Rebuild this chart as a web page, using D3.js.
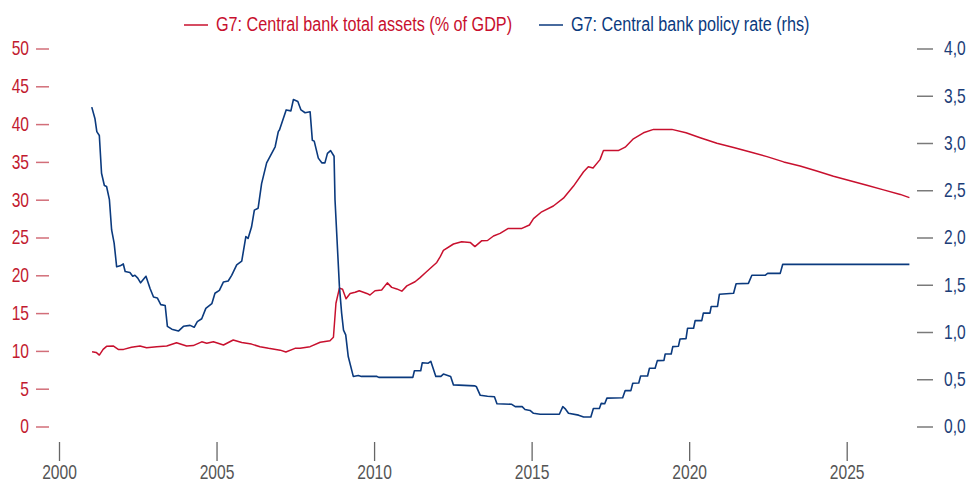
<!DOCTYPE html>
<html>
<head>
<meta charset="utf-8">
<script src="https://cdn.jsdelivr.net/npm/d3@7"></script>
<style>
  html, body { margin: 0; padding: 0; background: #fff; }
  svg { display: block; }
  text { font-family: "Liberation Sans", Arial, sans-serif; }
</style>
</head>
<body>
<svg id="chart" width="969" height="484"></svg>
<script>
// ---- Data ----
const xTicks = [2000, 2005, 2010, 2015, 2020, 2025];
const leftTicks = [0, 5, 10, 15, 20, 25, 30, 35, 40, 45, 50];
const rightTicks = [0, 0.5, 1, 1.5, 2, 2.5, 3, 3.5, 4];
const seriesNames = ["G7: Central bank total assets (% of GDP)", "G7: Central bank policy rate (rhs)"];

// G7 central bank total assets, % of GDP  [year, value]
const assetsData = [
  [2001.05, 9.9], [2001.18, 9.8], [2001.28, 9.45], [2001.4, 10.2], [2001.51, 10.6], [2001.72, 10.65],
  [2001.88, 10.2], [2002.05, 10.2], [2002.3, 10.47], [2002.57, 10.65], [2002.78, 10.43], [2003.1, 10.56],
  [2003.42, 10.65], [2003.73, 11.08], [2004.05, 10.65], [2004.26, 10.7], [2004.53, 11.2], [2004.69, 11.0],
  [2004.9, 11.2], [2005.22, 10.78], [2005.53, 11.44], [2005.8, 11.1], [2006.11, 10.9], [2006.38, 10.56],
  [2006.65, 10.34], [2007.02, 10.1], [2007.2, 9.85], [2007.49, 10.34], [2007.65, 10.34], [2007.97, 10.56],
  [2008.29, 11.14], [2008.6, 11.35], [2008.71, 11.8], [2008.79, 16.3], [2008.9, 18.3], [2009.0, 18.15],
  [2009.11, 16.9], [2009.24, 17.6], [2009.4, 17.75], [2009.53, 17.96], [2009.77, 17.6], [2009.87, 17.4],
  [2010.03, 17.96], [2010.24, 18.05], [2010.42, 19.0], [2010.56, 18.4], [2010.72, 18.2], [2010.88, 17.9],
  [2011.04, 18.6], [2011.3, 19.15], [2011.46, 19.7], [2011.62, 20.3], [2011.83, 21.1], [2011.99, 21.7],
  [2012.1, 22.46], [2012.2, 23.3], [2012.52, 24.14], [2012.78, 24.44], [2013.05, 24.35], [2013.2, 23.8],
  [2013.42, 24.58], [2013.6, 24.6], [2013.79, 25.2], [2014.0, 25.55], [2014.26, 26.2], [2014.69, 26.2],
  [2014.93, 26.65], [2015.06, 27.5], [2015.32, 28.4], [2015.69, 29.17], [2016.01, 30.2], [2016.33, 31.8],
  [2016.65, 33.7], [2016.8, 34.37], [2016.95, 34.2], [2017.17, 35.3], [2017.28, 36.5], [2017.75, 36.5],
  [2017.97, 36.95], [2018.23, 38.05], [2018.55, 38.85], [2018.87, 39.3], [2019.45, 39.3], [2019.9, 38.85],
  [2020.35, 38.2], [2020.88, 37.46], [2021.41, 36.9], [2021.94, 36.3], [2022.47, 35.7], [2023.0, 35.0],
  [2023.52, 34.46], [2024.05, 33.8], [2024.58, 33.1], [2025.11, 32.5], [2025.64, 31.9], [2026.17, 31.3],
  [2026.7, 30.7], [2026.99, 30.27]
];

// G7 central bank policy rate, %  [year, value]
const rateData = [
  [2001.04, 3.38], [2001.14, 3.26], [2001.2, 3.12], [2001.28, 3.08], [2001.35, 2.68], [2001.44, 2.55],
  [2001.51, 2.54], [2001.6, 2.40], [2001.67, 2.08], [2001.75, 1.94], [2001.83, 1.69], [2001.94, 1.70],
  [2002.04, 1.72], [2002.1, 1.64], [2002.25, 1.63], [2002.34, 1.59], [2002.41, 1.60], [2002.5, 1.57],
  [2002.59, 1.52], [2002.76, 1.59], [2002.89, 1.46], [2003.0, 1.37], [2003.12, 1.36], [2003.23, 1.29],
  [2003.37, 1.28], [2003.44, 1.06], [2003.58, 1.03], [2003.79, 1.01], [2003.95, 1.06], [2004.16, 1.07],
  [2004.29, 1.05], [2004.39, 1.11], [2004.53, 1.14], [2004.66, 1.25], [2004.85, 1.30], [2004.95, 1.41],
  [2005.09, 1.44], [2005.22, 1.53], [2005.37, 1.54], [2005.48, 1.60], [2005.64, 1.71], [2005.8, 1.75],
  [2005.93, 2.01], [2006.0, 1.99], [2006.11, 2.11], [2006.2, 2.29], [2006.32, 2.31], [2006.43, 2.57],
  [2006.59, 2.79], [2006.86, 2.96], [2006.96, 3.12], [2007.0, 3.14], [2007.21, 3.35], [2007.36, 3.34],
  [2007.44, 3.46], [2007.58, 3.44], [2007.68, 3.35], [2007.81, 3.32], [2007.97, 3.33], [2008.04, 3.03],
  [2008.1, 3.02], [2008.23, 2.84], [2008.34, 2.79], [2008.44, 2.79], [2008.52, 2.89], [2008.62, 2.92],
  [2008.73, 2.86], [2008.76, 2.40], [2008.9, 1.48], [2008.97, 1.20], [2009.03, 1.02], [2009.1, 0.97],
  [2009.18, 0.74], [2009.34, 0.53], [2009.5, 0.54], [2009.6, 0.53], [2010.09, 0.53], [2010.15, 0.52],
  [2011.23, 0.52], [2011.28, 0.59], [2011.48, 0.59], [2011.53, 0.675], [2011.72, 0.67], [2011.8, 0.69],
  [2011.96, 0.53], [2012.12, 0.53], [2012.2, 0.555], [2012.43, 0.53], [2012.52, 0.44], [2013.2, 0.43],
  [2013.25, 0.42], [2013.37, 0.33], [2013.6, 0.32], [2013.82, 0.315], [2013.9, 0.24], [2014.37, 0.235],
  [2014.48, 0.21], [2014.7, 0.21], [2014.79, 0.18], [2014.95, 0.17], [2015.06, 0.14], [2015.27, 0.13],
  [2015.88, 0.13], [2015.99, 0.21], [2016.06, 0.19], [2016.17, 0.14], [2016.49, 0.12], [2016.65, 0.10],
  [2016.88, 0.10], [2016.96, 0.19], [2017.15, 0.19], [2017.21, 0.245], [2017.32, 0.24], [2017.39, 0.30],
  [2017.89, 0.305], [2017.97, 0.38], [2018.15, 0.38], [2018.21, 0.457], [2018.4, 0.46], [2018.46, 0.534],
  [2018.68, 0.534], [2018.74, 0.616], [2018.92, 0.616], [2018.99, 0.697], [2019.2, 0.70], [2019.24, 0.767],
  [2019.43, 0.767], [2019.48, 0.845], [2019.66, 0.85], [2019.71, 0.926], [2019.9, 0.93], [2019.95, 1.04],
  [2020.14, 1.04], [2020.19, 1.12], [2020.4, 1.12], [2020.45, 1.2], [2020.66, 1.2], [2020.7, 1.27],
  [2020.9, 1.27], [2020.96, 1.40], [2021.41, 1.41], [2021.49, 1.51], [2021.88, 1.515], [2021.99, 1.60],
  [2022.41, 1.60], [2022.49, 1.62], [2022.89, 1.62], [2022.97, 1.716], [2026.99, 1.716]
];

// ---- Layout ----
const RED = "#c8102e";
const BLUE = "#0b3a7e";
const FS = 20;    // font size
const SX = 0.78;  // horizontal condensing of the sans font (axis labels)
const SXL = 0.81; // horizontal condensing for legend labels
const FONT = '"Liberation Sans", Arial, sans-serif';
const svg = d3.select("#chart");

function condense(s) {
  return sel => sel.each(function () {
    const t = d3.select(this);
    const x0 = +t.attr("x") || 0;
    t.attr("x", x0 / s).attr("transform", `scale(${s},1)`);
  });
}

const x = d3.scaleLinear().domain([2000, 2025]).range([59, 846.7]);
const yL = d3.scaleLinear().domain([0, 50]).range([426.5, 48.5]);
const yR = d3.scaleLinear().domain([0, 4]).range([426.5, 48.5]);

// Left axis
const gL = svg.append("g").attr("transform", "translate(49,0)")
  .call(d3.axisLeft(yL).tickValues(leftTicks).tickSize(13).tickPadding(7).tickFormat(d3.format("d")));
gL.select(".domain").remove();
gL.selectAll("line").attr("stroke", "#d26e79").attr("stroke-width", 1.5);
gL.selectAll("text").attr("fill", "#c21a2f").attr("font-size", FS)
  .style("font-family", FONT).call(condense(SX));

// Right axis
const gR = svg.append("g").attr("transform", "translate(917,0)")
  .call(d3.axisRight(yR).tickValues(rightTicks).tickSize(16).tickPadding(11)
    .tickFormat(d => d.toFixed(1).replace(".", ",")));
gR.select(".domain").remove();
gR.selectAll("line").attr("stroke", "#7a7a7a").attr("stroke-width", 1.5);
gR.selectAll("text").attr("fill", "#1c3d78").attr("font-size", FS)
  .style("font-family", FONT).call(condense(SX));

// Bottom axis
const gB = svg.append("g").attr("transform", "translate(0,442)")
  .call(d3.axisBottom(x).tickValues(xTicks).tickSize(19).tickPadding(4).tickFormat(d3.format("d")));
gB.select(".domain").remove();
gB.selectAll("line").attr("stroke", "#666").attr("stroke-width", 1.3);
gB.selectAll("text").attr("fill", "#555").attr("font-size", FS)
  .style("font-family", FONT).call(condense(SX));

// Lines
const lineL = d3.line().x(d => x(d[0])).y(d => yL(d[1]));
const lineR = d3.line().x(d => x(d[0])).y(d => yR(d[1]));

svg.append("path").datum(assetsData).attr("d", lineL)
  .attr("fill", "none").attr("stroke", RED).attr("stroke-width", 1.5).attr("stroke-linejoin", "round");
svg.append("path").datum(rateData).attr("d", lineR)
  .attr("fill", "none").attr("stroke", BLUE).attr("stroke-width", 1.6).attr("stroke-linejoin", "round");

// Legend
const legendItems = [
  { name: seriesNames[0], color: RED, x: 184 },
  { name: seriesNames[1], color: BLUE, x: 539 }
];
const lg = svg.append("g");
legendItems.forEach(it => {
  lg.append("line").attr("x1", it.x).attr("x2", it.x + 24).attr("y1", 25).attr("y2", 25)
    .attr("stroke", it.color).attr("stroke-width", 1.5);
  lg.append("text").attr("x", it.x + 32).attr("y", 31).attr("fill", it.color)
    .attr("font-size", FS).style("font-family", FONT).text(it.name).call(condense(SXL));
});
</script>
</body>
</html>
